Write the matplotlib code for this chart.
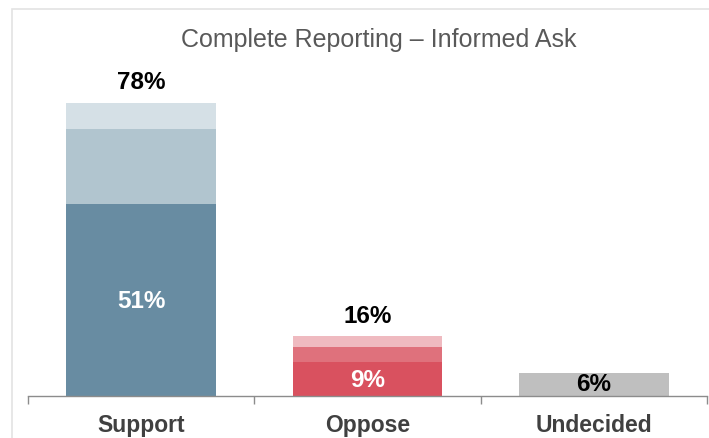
import numpy as np
import matplotlib.pyplot as plt
from matplotlib.patches import Rectangle

plt.rcParams['font.family'] = ['Liberation Sans', 'DejaVu Sans']

# ============================================
# DATA
# ============================================
categories = ["Support", "Oppose", "Undecided"]
totals = [78, 16, 6]

# stacked pieces (strong, somewhat, lean)
support_parts = [51, 20, 7]
oppose_parts = [9, 4, 3]
undecided_parts = [6]

support_colors = ["#688ca2", "#b1c5cf", "#d5e0e6"]
oppose_colors = ["#d9515f", "#df717c", "#efbac0"]
undecided_colors = ["#bfbfbf"]

# ============================================
# FIGURE
# ============================================
fig = plt.figure(figsize=(7.09, 4.39), dpi=100)
fig.patches.append(Rectangle((12 / 709, -0.1), 1.1, 1 - 10 / 439 + 0.1,
                             transform=fig.transFigure, fill=False,
                             edgecolor="#e3e3e3", linewidth=1.2))

ax = fig.add_axes([28 / 709, 42 / 439, 679 / 709, 337 / 439])

width = 0.66
stacks = [
    (support_parts, support_colors),
    (oppose_parts, oppose_colors),
    (undecided_parts, undecided_colors),
]

for i, (parts, colors) in enumerate(stacks):
    bottom = 0
    for val, col in zip(parts, colors):
        ax.bar(i, val, width=width, bottom=bottom, color=col, linewidth=0)
        bottom += val

# total labels above stacked bars
for i, total in enumerate(totals[:2]):
    ax.text(i, total + 5.5, f"{total}%", ha="center", va="center",
            fontsize=17.5, fontweight="bold", color="black")

# inner labels
ax.text(0, support_parts[0] / 2, f"{support_parts[0]}%", ha="center", va="center",
        fontsize=17.5, fontweight="bold", color="white")
ax.text(1, oppose_parts[0] / 2, f"{oppose_parts[0]}%", ha="center", va="center",
        fontsize=17.5, fontweight="bold", color="white")
ax.text(2, undecided_parts[0] / 2 + 0.4, f"{undecided_parts[0]}%", ha="center",
        va="center", fontsize=17.5, fontweight="bold", color="black")

ax.set_xlim(-0.5, 2.5)
ax.set_ylim(0, 89.6)

for s in ["top", "right", "left"]:
    ax.spines[s].set_visible(False)
ax.spines["bottom"].set_color("#8c8c8c")
ax.spines["bottom"].set_linewidth(1.0)

ax.set_yticks([])
ax.set_xticks([-0.5, 0.5, 1.5, 2.5])
ax.set_xticklabels([])
ax.tick_params(axis="x", length=6, color="#8c8c8c", width=1.0, direction="out")

for i, cat in enumerate(categories):
    ax.text(i, -7.6, cat, ha="center", va="center", fontsize=16.5,
            fontweight="bold", color="#404040")

fig.text(379 / 709, 1 - 40 / 439, "Complete Reporting \u2013 Informed Ask",
         ha="center", va="center", fontsize=18, color="#595959")

plt.savefig("out.png", dpi=100)
